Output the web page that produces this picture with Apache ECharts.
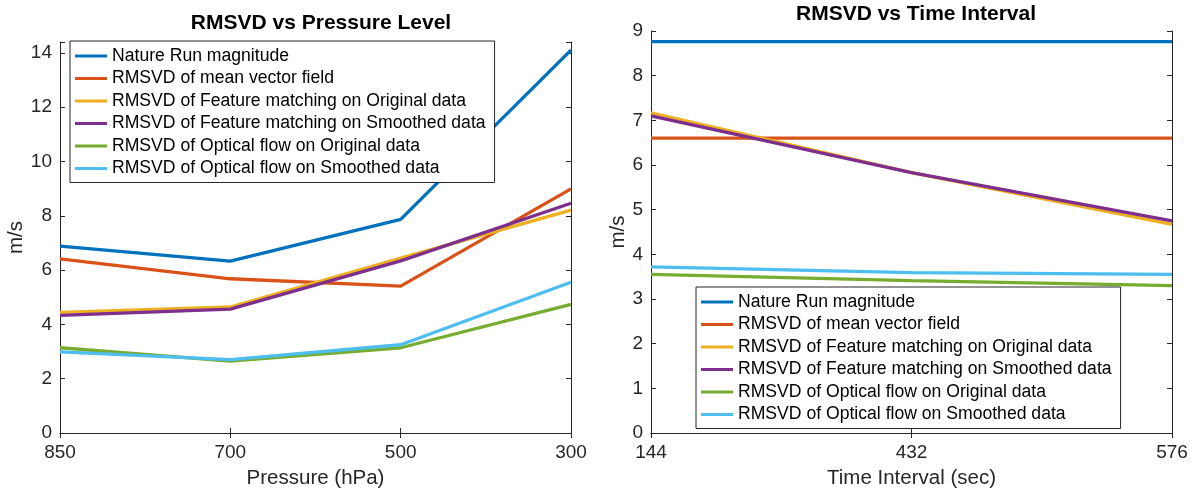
<!DOCTYPE html>
<html><head><meta charset="utf-8">
<script src="https://cdn.jsdelivr.net/npm/echarts@6/dist/echarts.min.js"></script>
<style>html,body{margin:0;padding:0;background:#fff}#c{width:1193px;height:494px}</style>
</head><body><div id="c"></div>
<script>
const seriesNames = ['Nature Run magnitude','RMSVD of mean vector field','RMSVD of Feature matching on Original data','RMSVD of Feature matching on Smoothed data','RMSVD of Optical flow on Original data','RMSVD of Optical flow on Smoothed data'];
const colors = ['#0072BD','#D95319','#EDB120','#7E2F8E','#77AC30','#4DBEEE'];

const pressureLevels = ['850','700','500','300'];
const pNature = [6.88, 6.33, 7.87, 14.1];
const pMean = [6.41, 5.68, 5.41, 8.99];
const pFeatOrig = [4.44, 4.64, 6.44, 8.21];
const pFeatSmooth = [4.33, 4.56, 6.34, 8.46];
const pFlowOrig = [3.14, 2.65, 3.14, 4.74];
const pFlowSmooth = [2.99, 2.70, 3.25, 5.55];

const timeIntervals = ['144','432','576'];
const tNature = [8.76, 8.76, 8.76];
const tMean = [6.60, 6.60, 6.60];
const tFeatOrig = [7.17, 5.83, 4.67];
const tFeatSmooth = [7.10, 5.83, 4.75];
const tFlowOrig = [3.55, 3.41, 3.30];
const tFlowSmooth = [3.72, 3.59, 3.55];

const FONT = "'Liberation Sans', Arial, Helvetica, sans-serif";
const AX = '#262626';
const leftData = [pNature,pMean,pFeatOrig,pFeatSmooth,pFlowOrig,pFlowSmooth];
const rightData = [tNature,tMean,tFeatOrig,tFeatSmooth,tFlowOrig,tFlowSmooth];

function xAx(grid, cats, name, pos) {
  const main = pos === 'bottom';
  return {
    type:'category', gridIndex:grid, data:cats, boundaryGap:false, position:pos,
    name: main ? name : '', nameLocation:'middle', nameGap:35,
    nameTextStyle:{fontFamily:FONT,fontSize:20.5,color:AX},
    axisLine:{show:true,lineStyle:{color:AX,width:1}},
    axisTick:{show:true,inside:true,length:5,lineStyle:{color:AX}},
    axisLabel:{show:main,fontFamily:FONT,fontSize:19,color:AX,margin:10},
    splitLine:{show:false}
  };
}
function yAx(grid, max, interval, pos, gap) {
  const main = pos === 'left';
  return {
    type:'value', gridIndex:grid, min:0, max:max, interval:interval, position:pos,
    name: main ? 'm/s' : '', nameLocation:'middle', nameGap:gap, nameRotate:90,
    nameTextStyle:{fontFamily:FONT,fontSize:20.5,color:AX},
    axisLine:{show:true,lineStyle:{color:AX,width:1}},
    axisTick:{show:true,inside:true,length:5,lineStyle:{color:AX}},
    axisLabel:{show:main,fontFamily:FONT,fontSize:19,color:AX,margin:8,
      formatter:v => (Math.abs(v/interval - Math.round(v/interval)) < 1e-6 ? String(v) : '')},
    splitLine:{show:false}
  };
}
function legend(left, top) {
  return {
    left:left, top:top, orient:'vertical', data:seriesNames,
    icon:'rect', itemWidth:32, itemHeight:3, itemGap:2.5,
    padding:[5,9,4,5], borderColor:'#262626', borderWidth:1, backgroundColor:'#fff',
    textStyle:{fontFamily:FONT,fontSize:17.6,color:'#000',lineHeight:20},
    selectedMode:false
  };
}
const series = [];
seriesNames.forEach((n,i)=>{
  series.push({type:'line',name:n,xAxisIndex:0,yAxisIndex:0,data:leftData[i],showSymbol:false,symbol:'none',
    lineStyle:{width:3.3,color:colors[i]},itemStyle:{color:colors[i]},z:2});
  series.push({type:'line',name:n,xAxisIndex:2,yAxisIndex:2,data:rightData[i],showSymbol:false,symbol:'none',
    lineStyle:{width:3.3,color:colors[i]},itemStyle:{color:colors[i]},z:2});
});

const chart = echarts.init(document.getElementById('c'), null, {renderer:'canvas'});
chart.setOption({
  animation:false,
  color:colors,
  title:[
    {text:'RMSVD vs Pressure Level',left:316,top:8,textAlign:'center',
     textStyle:{fontFamily:FONT,fontSize:21,fontWeight:'bold',color:'#000'}},
    {text:'RMSVD vs Time Interval',left:911,top:-1,textAlign:'center',
     textStyle:{fontFamily:FONT,fontSize:21,fontWeight:'bold',color:'#000'}}
  ],
  grid:[
    {left:60,top:42,width:511,bottom:59,containLabel:false},
    {left:651,top:31,width:521,bottom:59,containLabel:false}
  ],
  xAxis:[
    xAx(0,pressureLevels,'Pressure (hPa)','bottom'),
    xAx(0,pressureLevels,'','top'),
    xAx(1,timeIntervals,'Time Interval (sec)','bottom'),
    xAx(1,timeIntervals,'','top')
  ],
  yAxis:[
    yAx(0,14.4,2,'left',31),
    yAx(0,14.4,2,'right',31),
    yAx(1,9,1,'left',18),
    yAx(1,9,1,'right',18)
  ],
  legend:[legend(70,41), legend(696,287)],
  series:series
});
</script></body></html>
